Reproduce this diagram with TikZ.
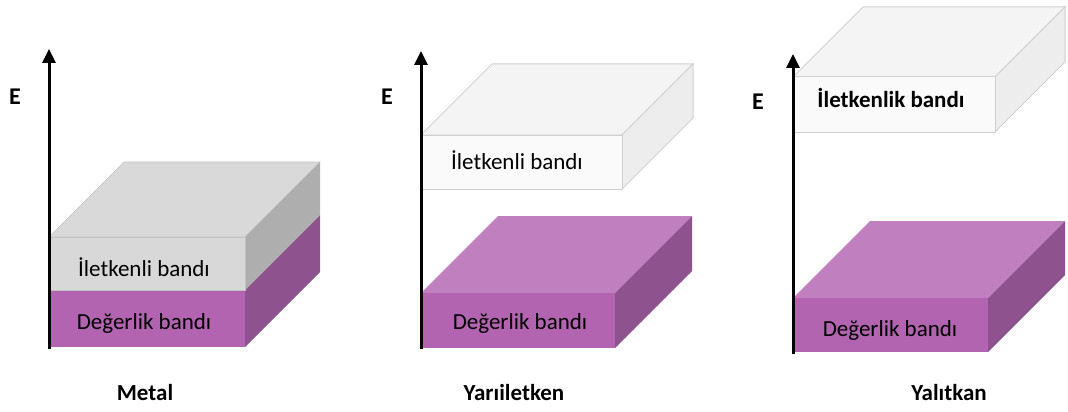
\documentclass[tikz,border=0pt]{standalone}
\usepackage{fontspec}
\setmainfont{Carlito}
\usetikzlibrary{arrows.meta}

\definecolor{greytopc}{HTML}{D9D9D9}
\definecolor{greyfrontc}{HTML}{D8D8D8}
\definecolor{greysidec}{HTML}{AEAEAE}
\definecolor{purptopc}{HTML}{C080C0}
\definecolor{purpfrontc}{HTML}{B264B0}
\definecolor{purpsidec}{HTML}{8E528F}
\definecolor{whitetopc}{HTML}{F4F4F4}
\definecolor{whitefrontc}{HTML}{FAFAFA}
\definecolor{whitesidec}{HTML}{EDEDED}
\definecolor{whiteedgec}{HTML}{D0D0D0}

% slab: left x, top y, right x, bottom y, depth, style prefix
\newcommand{\slab}[6]{%
  \path[#6top] (#1,#2) -- (#1+#5,#2-#5) -- (#3+#5,#2-#5) -- (#3,#2) -- cycle;
  \path[#6side] (#3,#2) -- (#3+#5,#2-#5) -- (#3+#5,#4-#5) -- (#3,#4) -- cycle;
  \path[#6front] (#1,#2) rectangle (#3,#4);
}

\begin{document}
\begin{tikzpicture}[
  x=1pt, y=-1pt,
  greytop/.style={fill=greytopc, draw=greytopc!90!black, line width=0.6pt},
  greyside/.style={fill=greysidec},
  greyfront/.style={fill=greyfrontc, draw=greyfrontc!90!black, line width=0.6pt},
  purptop/.style={fill=purptopc},
  purpside/.style={fill=purpsidec},
  purpfront/.style={fill=purpfrontc},
  whitetop/.style={fill=whitetopc, draw=whiteedgec, line width=1pt},
  whiteside/.style={fill=whitesidec, draw=whiteedgec, line width=1pt},
  whitefront/.style={fill=whitefrontc, draw=whiteedgec, line width=1pt},
  axis/.style={line width=3pt, -{Triangle[width=13pt,length=14pt]}},
  bandtext/.style={font=\fontsize{23}{27}\selectfont, inner sep=0pt},
  energy/.style={font=\fontsize{24}{28}\selectfont\bfseries, inner sep=0pt},
  title/.style={font=\fontsize{23}{27}\selectfont\bfseries, inner sep=0pt}
]
  \useasboundingbox (0,0) rectangle (1068,412);

  % Metal
  \slab{49}{290}{245}{347}{75}{purp}
  \slab{49}{237}{245}{290}{75}{grey}
  \coordinate (m0) at (49,349);
  \coordinate (m1) at (49,49);
  \draw[axis] (m0) -- (m1);
  \node[energy] (me) at (15,97) {E};
  \node[bandtext] (mc) at (144,267) {İletkenli bandı};
  \node[bandtext] (mv) at (144,323) {Değerlik bandı};
  \node[title] (mt) at (145,393) {Metal};

  % Yariiletken
  \slab{421}{135}{622}{189}{71}{white}
  \slab{421}{293}{615}{348}{77}{purp}
  \coordinate (s0) at (421,349);
  \coordinate (s1) at (421,51);
  \draw[axis] (s0) -- (s1);
  \node[energy] (se) at (387,97) {E};
  \node[bandtext] (sc) at (517,160) {İletkenli bandı};
  \node[bandtext] (sv) at (520,323) {Değerlik bandı};
  \node[title] (st) at (514,393) {Yarıiletken};

  % Yalitkan
  \slab{793}{77}{995}{132}{70}{white}
  \slab{793}{298}{988}{352}{77}{purp}
  \coordinate (i0) at (793,354);
  \coordinate (i1) at (793,54);
  \draw[axis] (i0) -- (i1);
  \node[energy] (ie) at (758,102) {E};
  \node[bandtext, font=\fontsize{23}{27}\selectfont\bfseries] (ic) at (891,98) {İletkenlik bandı};
  \node[bandtext] (iv) at (890,330) {Değerlik bandı};
  \node[title] (it) at (949,393) {Yalıtkan};
\end{tikzpicture}
\end{document}
